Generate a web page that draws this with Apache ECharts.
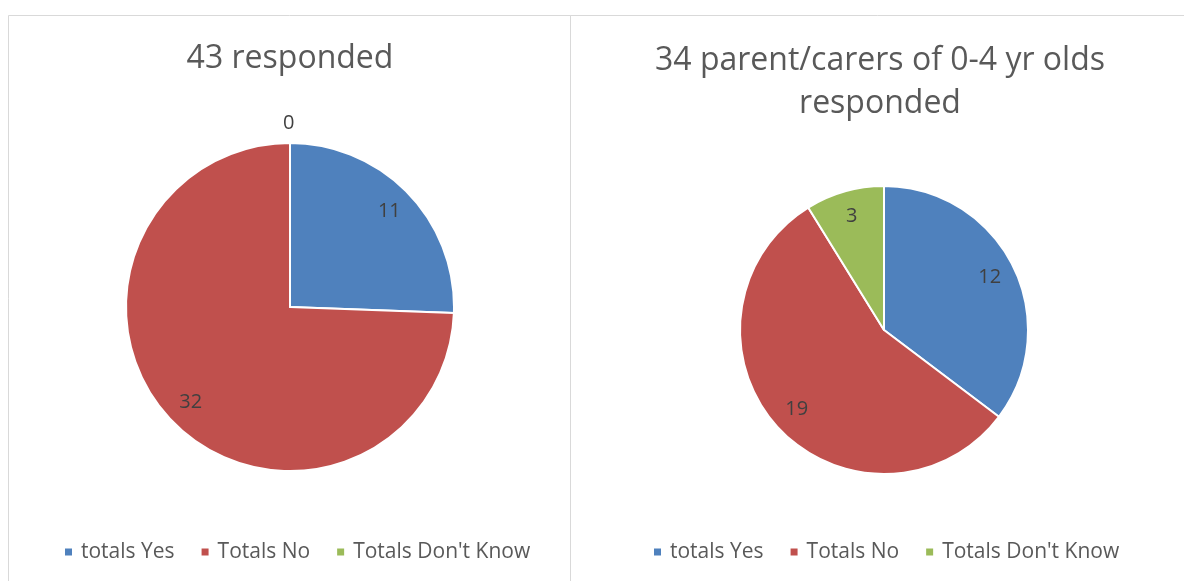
<!DOCTYPE html>
<html>
<head>
<meta charset="utf-8">
<script src="https://cdn.jsdelivr.net/npm/echarts@6/dist/echarts.min.js"></script>
<style>
html,body{margin:0;padding:0;background:#fff;}
#chart{width:1184px;height:581px;}
</style>
</head>
<body>
<div id="chart"></div>
<script>
// ---- data ----
const categories = ["totals Yes", "Totals No", "Totals Don't Know"];
const colors = ["#4f81bd", "#c0504d", "#9bbb59"];
const leftTitle = "43 responded";
const leftValues = [11, 32, 0];
const rightTitle = "34 parent/carers of 0-4 yr olds\nresponded";
const rightValues = [12, 19, 3];

const FONT = "'Open Sans', 'Noto Sans', sans-serif";
const labelStyle = { fontFamily: FONT, fontSize: 20, color: "#404040" };

function mainPie(values, center, radius) {
  return {
    type: "pie",
    center: center,
    radius: [0, radius],
    startAngle: 90,
    clockwise: true,
    silent: true,
    label: { show: false },
    labelLine: { show: false },
    itemStyle: { borderColor: "#ffffff", borderWidth: 2 },
    data: categories.map((c, i) => ({ name: c, value: values[i], itemStyle: { color: colors[i] } }))
  };
}
function labelPie(values, center, r0, r1) {
  return {
    type: "pie",
    center: center,
    radius: [r0, r1],
    startAngle: 90,
    clockwise: true,
    silent: true,
    avoidLabelOverlap: false,
    itemStyle: { color: "transparent", borderWidth: 0 },
    label: Object.assign({ show: true, position: "inside", formatter: "{c}" }, labelStyle),
    labelLine: { show: false },
    data: categories.map((c, i) => {
      const d = { name: c, value: values[i] };
      if (values[i] === 0) {
        d.label = Object.assign({ show: true, position: "outside", formatter: "{c}", distanceToLabelLine: -7 }, labelStyle);
        d.labelLine = { show: false, length: 20, length2: 0 };
      }
      return d;
    })
  };
}

const chart = echarts.init(document.getElementById("chart"), null, { renderer: "canvas" });
const legendBase = {
  orient: "horizontal",
  top: 541,
  padding: 0,
  icon: "rect",
  itemWidth: 9,
  itemHeight: 9,
  itemGap: 25,
  selectedMode: false,
  textStyle: { fontFamily: FONT, fontSize: 21, color: "#595959", lineHeight: 22, padding: [0, 0, 0, 3] },
  data: categories
};
chart.setOption({
  animation: false,
  backgroundColor: "#ffffff",
  graphic: [
    { type: "rect", shape: { x: 8.5, y: 15.5, width: 562, height: 700 }, style: { fill: "none", stroke: "#d9d9d9", lineWidth: 1 }, silent: true },
    { type: "rect", shape: { x: 570.5, y: 15.5, width: 700, height: 700 }, style: { fill: "none", stroke: "#d9d9d9", lineWidth: 1 }, silent: true }
  ],
  title: [
    { text: leftTitle, left: 290, top: 37, textAlign: "center", padding: 0,
      textStyle: { fontFamily: FONT, fontSize: 32, fontWeight: "normal", color: "#595959", lineHeight: 43 } },
    { text: rightTitle, left: 880, top: 39, textAlign: "center", padding: 0,
      textStyle: { fontFamily: FONT, fontSize: 32, fontWeight: "normal", color: "#595959", lineHeight: 43 } }
  ],
  legend: [
    Object.assign({}, legendBase, { left: 63 }),
    Object.assign({}, legendBase, { left: 652 })
  ],
  series: [
    mainPie(leftValues, [290, 307], 164),
    mainPie(rightValues, [884, 330], 144),
    labelPie(leftValues, [290, 307], 106, 164),
    labelPie(rightValues, [884, 330], 86, 144)
  ]
});
</script>
</body>
</html>
